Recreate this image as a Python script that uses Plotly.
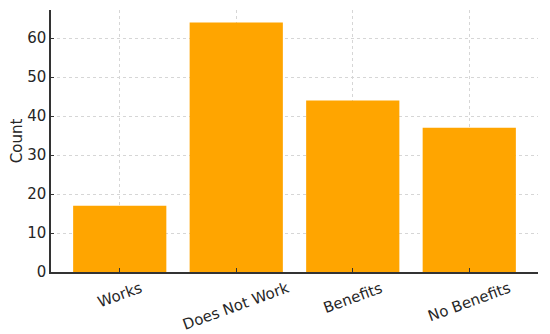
import plotly.graph_objects as go

# Data
categories = ["Works", "Does Not Work", "Benefits", "No Benefits"]
counts = [17, 64, 44, 37]

FONT = "DejaVu Sans"
TEXT = "#262626"

fig = go.Figure()

fig.add_trace(go.Bar(
    x=categories,
    y=counts,
    marker=dict(color="#FFA500", line=dict(width=0)),
    width=0.8,
))

# Rotated category labels centred under each bar (matplotlib style)
annotations = [
    dict(
        x=cat, y=0, xref="x", yref="paper",
        text=cat, showarrow=False, textangle=-20,
        xanchor="center", yanchor="top", yshift=-4,
        font=dict(family=FONT, size=15, color=TEXT),
    )
    for cat in categories
]

# page body has an 8px default margin, so the figure is a bit smaller
fig.update_layout(
    width=542, height=326,
    margin=dict(l=43, r=12, t=2, b=62),
    paper_bgcolor="white",
    plot_bgcolor="white",
    showlegend=False,
    font=dict(family=FONT, size=15, color=TEXT),
    annotations=annotations,
)

fig.update_xaxes(
    range=[-0.59, 3.59],
    showticklabels=False,
    automargin=False,
    showline=True, linecolor="#333333", linewidth=1.5,
    ticks="inside", ticklen=4, tickcolor="#333333",
    showgrid=True, gridcolor="#d6d6d6", griddash="dot", gridwidth=1,
    zeroline=False,
)

fig.update_yaxes(
    range=[0, 67.2],
    tickvals=[0, 10, 20, 30, 40, 50, 60],
    automargin=False,
    showline=True, linecolor="#333333", linewidth=1.5,
    ticks="inside", ticklen=3, tickcolor="#333333",
    showgrid=True, gridcolor="#d6d6d6", griddash="dot", gridwidth=1,
    zeroline=False,
    title=dict(text="Count", font=dict(family=FONT, size=15, color=TEXT), standoff=5),
    tickfont=dict(family=FONT, size=15, color=TEXT),
)

fig.write_html("out.html")
